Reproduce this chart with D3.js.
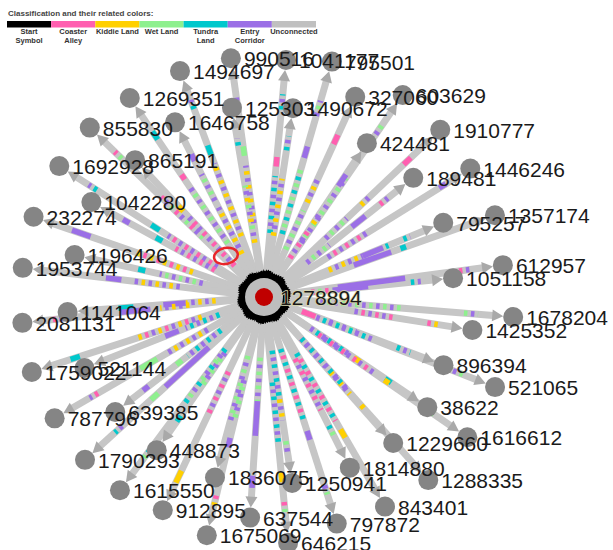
<!DOCTYPE html>
<html>
<head>
<meta charset="utf-8">
<script src="https://cdn.jsdelivr.net/npm/d3@7"></script>
<style>
body { margin: 0; background: #fff; }
svg { display: block; font-family: Arial, "Liberation Sans", sans-serif; }
</style>
</head>
<body>
<div id="chart"></div>
<script>
// categories used for the colour coding
const categories = ["Start Symbol", "Coaster Alley", "Kiddie Land", "Wet Land", "Tundra Land", "Entry Corridor", "Unconnected"];
const categoryCodes = ["s", "p", "y", "g", "c", "v", "u"];
const categoryColors = ["#000000", "#ff5fb0", "#ffd000", "#8ef08e", "#00c8cc", "#9b6fe6", "#c0c0c0"];
const legendLines = [["Start", "Symbol"], ["Coaster", "Alley"], ["Kiddie Land"], ["Wet Land"], ["Tundra", "Land"], ["Entry", "Corridor"], ["Unconnected"]];

const centerId = "1278894";

// outer nodes: id, angle (deg, clockwise from north), distance from the centre
const nodeIds = ["1494697", "990516", "1041177", "795501", "327060", "603629", "1910777", "424481", "1490672", "125303",
  "1646758", "1269351", "855830", "865191", "1692928", "1042280", "232274", "1196426", "1953744", "1141064",
  "2081131", "1759022", "521144", "787796", "639385", "1790293", "448873", "1615550", "1836075", "912895",
  "1675069", "637544", "646215", "1250941", "797872", "1814880", "843401", "1229660", "1288335", "38622",
  "1616612", "896394", "521065", "1425352", "1678204", "1051158", "612957", "795257", "1357174", "189481", "1446246"];
const nodeAngle = [-20.4, -7.9, 5.3, 16.1, 24.5, 34.5, 46.5, 33.8, 8.7, -9.6,
  -27.0, -34.0, -45.8, -43.3, -57.4, -61.2, -70.8, -77.5, -83.1, -94.4,
  -96.1, -107.9, -111.6, -120.1, -127.7, -132.3, -145.0, -143.3, -164.8, -154.6,
  -166.5, -176.4, 174.4, 171.4, 162.2, 153.3, 150.0, 138.5, 138.1, 124.0,
  124.6, 110.8, 111.3, 99.0, 94.6, 84.3, 82.4, 67.5, 70.5, 51.4, 58.1];
const nodeDist = [241, 241, 238, 245, 220, 245, 243, 185, 191, 192,
  196, 240, 243, 188, 243, 197, 244, 194, 243, 197,
  243, 244, 193, 242, 188, 242, 187, 241, 187, 236,
  245, 221, 247, 188, 238, 191, 242, 195, 246, 197,
  247, 192, 248, 211, 250, 190, 241, 194, 245, 191, 243];

// coloured stretches on each path: "from-to:codes" (fractions of the path)
const edgeRuns = [
  "0.2-0.6:yv 0.65-0.7:c 0.9-0.95:cv",
  "0.25-0.55:vy 0.6-0.65:g 0.85-0.92:gv",
  "0.2-0.5:cv 0.55-0.6:p 0.85-0.93:cv",
  "0.2-0.55:cg 0.6-0.66:v 0.82-0.9:vg",
  "0.15-0.4:gv 0.45-0.6:yv 0.82-0.88:p",
  "0.2-0.6:vg 0.83-0.92:gv",
  "0.3-0.45:vg 0.55-0.62:yv 0.85-0.9:p",
  "0.15-0.4:pv 0.45-0.55:yv 0.78-0.88:v",
  "0.25-0.65:yv 0.85-0.95:cv",
  "0.2-0.6:yvg 0.88-0.93:cv",
  "0.15-0.5:yv 0.55-0.75:vg 0.85-0.9:v",
  "0.2-0.55:gv 0.6-0.63:p 0.85-0.9:c",
  "0.3-0.6:gvp 0.88-0.93:gp",
  "0.12-0.6:pv 0.65-0.7:y",
  "0.15-0.45:vp 0.5-0.55:c 0.88-0.93:cv",
  "0.2-0.5:pv 0.6-0.65:c 0.85-0.9:v",
  "0.25-0.55:yp 0.8-0.9:v",
  "0.25-0.55:vg 0.65-0.7:c",
  "0.3-0.55:vy 0.6-0.68:v",
  "0.15-0.35:yv 0.35-0.5:v 0.7-0.8:c",
  "0.25-0.4:yv 0.45-0.6:v 0.9-0.95:vp",
  "0.2-0.55:yvp 0.85-0.9:c",
  "0.15-0.4:cv 0.45-0.55:v",
  "0.2-0.45:vy 0.5-0.6:g 0.85-0.9:pv",
  "0.2-0.5:cv 0.55-0.6:g 0.85-0.9:v",
  "0.25-0.55:v 0.6-0.65:g 0.85-0.9:vc",
  "0.3-0.6:vg 0.85-0.9:c",
  "0.2-0.55:cvg 0.85-0.9:cg",
  "0.25-0.75:gv",
  "0.3-0.55:pv 0.88-0.95:y",
  "0.3-0.5:vg 0.6-0.65:v 0.9-0.95:py",
  "0.2-0.45:gv 0.45-0.65:v 0.88-0.95:v",
  "0.3-0.6:cv 0.75-0.8:y 0.9-0.95:pg",
  "0.2-0.55:cv 0.55-0.7:yv 0.85-0.93:gv",
  "0.15-0.55:cp 0.6-0.65:v 0.9-0.95:vg",
  "0.3-0.7:pv 0.82-0.9:cg",
  "0.2-0.6:cp 0.65-0.7:y",
  "0.2-0.45:pv 0.5-0.7:yv",
  "0.15-0.5:cv 0.6-0.62:y",
  "0.2-0.5:vc 0.55-0.6:y 0.8-0.85:c",
  "0.2-0.55:pv 0.6-0.63:y 0.85-0.92:vg",
  "0.1-0.2:p 0.3-0.5:vg 0.8-0.9:cv",
  "0.15-0.45:vc 0.88-0.94:vg",
  "0.4-0.65:vp 0.85-0.93:pyv",
  "0.15-0.55:vg 0.86-0.93:gv",
  "0.15-0.3:pg 0.3-0.55:v 0.85-0.92:cv",
  "0.25-0.6:v 0.88-0.95:pv",
  "0.3-0.55:yv 0.55-0.7:v 0.72-0.74:c 0.85-0.9:cv",
  "0.35-0.55:v 0.6-0.63:c",
  "0.2-0.4:vg 0.6-0.72:v 0.85-0.92:pv",
  "0.25-0.5:vp 0.92-0.96:v"
];

// highlighted spot (angle, distance)
const markAngle = -42.8, markDist = 56;

const width = 613, height = 550;
const cx = 264, cy = 297;
const nodeR = 10, arrowLen = 11, innerR = 26;

const svg = d3.select("#chart").append("svg")
  .attr("width", width)
  .attr("height", height);

const rScale = d3.scaleLinear().domain([0, 250]).range([0, 250]);
const aScale = d3.scaleLinear().domain([0, 360]).range([0, 2 * Math.PI]);
const color = d3.scaleOrdinal().domain(categoryCodes).range(categoryColors);

const nodes = nodeIds.map((id, i) => {
  const a = aScale(nodeAngle[i]);
  return { id, ux: Math.sin(a), uy: -Math.cos(a), d: rScale(nodeDist[i]), runs: edgeRuns[i] };
});
nodes.forEach(n => { n.x = cx + n.ux * n.d; n.y = cy + n.uy * n.d; });
const pt = (n, d) => [cx + n.ux * d, cy + n.uy * d];

// ---- legend ----
const legend = svg.append("g").attr("transform", "translate(7,0)");
legend.append("text")
  .attr("x", 1).attr("y", 16)
  .attr("font-size", 8).attr("font-weight", "bold").attr("fill", "#444")
  .text("Classification and their related colors:");
const lx = d3.scaleBand().domain(categories).range([0, 309]);
legend.selectAll("rect.leg")
  .data(categories)
  .join("rect")
  .attr("class", "leg")
  .attr("x", d => lx(d)).attr("y", 21)
  .attr("width", lx.bandwidth()).attr("height", 6.5)
  .attr("fill", (d, i) => color(categoryCodes[i]));
legend.selectAll("text.lab")
  .data(categories)
  .join("text")
  .attr("class", "lab")
  .attr("x", d => lx(d) + lx.bandwidth() / 2)
  .attr("y", 34)
  .attr("text-anchor", "middle")
  .attr("font-size", 7.5).attr("font-weight", "bold").attr("fill", "#333")
  .selectAll("tspan")
  .data((d, i) => legendLines[i])
  .join("tspan")
  .attr("x", function () { return d3.select(this.parentNode).attr("x"); })
  .attr("dy", (d, j) => j ? 8.5 : 0)
  .text(d => d);

// ---- edges ----
const edgeG = svg.append("g");
edgeG.selectAll("line.edge")
  .data(nodes)
  .join("line")
  .attr("class", "edge")
  .attr("x1", cx).attr("y1", cy)
  .attr("x2", d => pt(d, d.d - nodeR - arrowLen + 1)[0])
  .attr("y2", d => pt(d, d.d - nodeR - arrowLen + 1)[1])
  .attr("stroke", "#c6c6c6")
  .attr("stroke-width", 7);

// coloured dashes
const dashes = [];
nodes.forEach(n => {
  const r1 = n.d - nodeR - arrowLen;
  n.runs.split(" ").forEach(tok => {
    const [range, codes] = tok.split(":");
    const [t0, t1] = range.split("-").map(Number);
    const a = innerR + t0 * (r1 - innerR), b = innerR + t1 * (r1 - innerR);
    if (codes.length === 1) {
      dashes.push({ n, a, b, c: codes });
    } else {
      let k = 0;
      for (let s = a; s < b; s += 7, k++) {
        dashes.push({ n, a: s, b: Math.min(s + 3.5, b), c: codes[k % codes.length] });
      }
    }
  });
});
edgeG.selectAll("line.dash")
  .data(dashes)
  .join("line")
  .attr("class", "dash")
  .attr("x1", d => pt(d.n, d.a)[0]).attr("y1", d => pt(d.n, d.a)[1])
  .attr("x2", d => pt(d.n, d.b)[0]).attr("y2", d => pt(d.n, d.b)[1])
  .attr("stroke", d => color(d.c))
  .attr("stroke-width", 5.5);

// arrowheads
edgeG.selectAll("path.arrow")
  .data(nodes)
  .join("path")
  .attr("class", "arrow")
  .attr("d", n => {
    const tip = pt(n, n.d - nodeR);
    const base = pt(n, n.d - nodeR - arrowLen);
    const px = -n.uy * 6, py = n.ux * 6;
    return `M${tip[0]},${tip[1]}L${base[0] + px},${base[1] + py}L${base[0] - px},${base[1] - py}Z`;
  })
  .attr("fill", "#a9a9a9");

// ---- centre node ----
const gearPts = d3.range(0, 220).map(i => [
  aScale(i * 360 / 220),
  25 + 1.3 * Math.abs(Math.sin(i * 1.7)) + (i % 3 === 0 ? 1.1 : 0) + 0.8 * Math.sin(i * 0.29)
]);
svg.append("path")
  .attr("transform", `translate(${cx},${cy})`)
  .attr("d", d3.lineRadial().curve(d3.curveLinearClosed)(gearPts))
  .attr("fill", "#000");
svg.append("circle").attr("cx", cx).attr("cy", cy).attr("r", 19).attr("fill", "#bdbdbd");
svg.append("circle").attr("cx", cx).attr("cy", cy).attr("r", 9).attr("fill", "#c00000");

// ---- outer nodes ----
svg.append("g").selectAll("circle")
  .data(nodes)
  .join("circle")
  .attr("cx", d => d.x).attr("cy", d => d.y)
  .attr("r", nodeR)
  .attr("fill", "#858585");

// highlight ellipse
const ma = aScale(markAngle);
const mx = cx + Math.sin(ma) * rScale(markDist), my = cy - Math.cos(ma) * rScale(markDist);
svg.append("ellipse")
  .attr("cx", mx).attr("cy", my)
  .attr("rx", 12).attr("ry", 8)
  .attr("transform", `rotate(-12,${mx},${my})`)
  .attr("fill", "none")
  .attr("stroke", "#e8262a")
  .attr("stroke-width", 2.5);

// ---- labels ----
svg.append("g").selectAll("text")
  .data(nodes)
  .join("text")
  .attr("x", d => d.x + 13)
  .attr("y", d => d.y + 8)
  .attr("font-size", 21)
  .attr("fill", "#1a1a1a")
  .text(d => d.id);
svg.append("text")
  .attr("x", cx + 16).attr("y", cy + 8)
  .attr("font-size", 21)
  .attr("fill", "#1a1a1a")
  .attr("stroke", "#d8d8b0")
  .attr("stroke-width", 1.5)
  .attr("paint-order", "stroke")
  .text(centerId);
</script>
</body>
</html>
